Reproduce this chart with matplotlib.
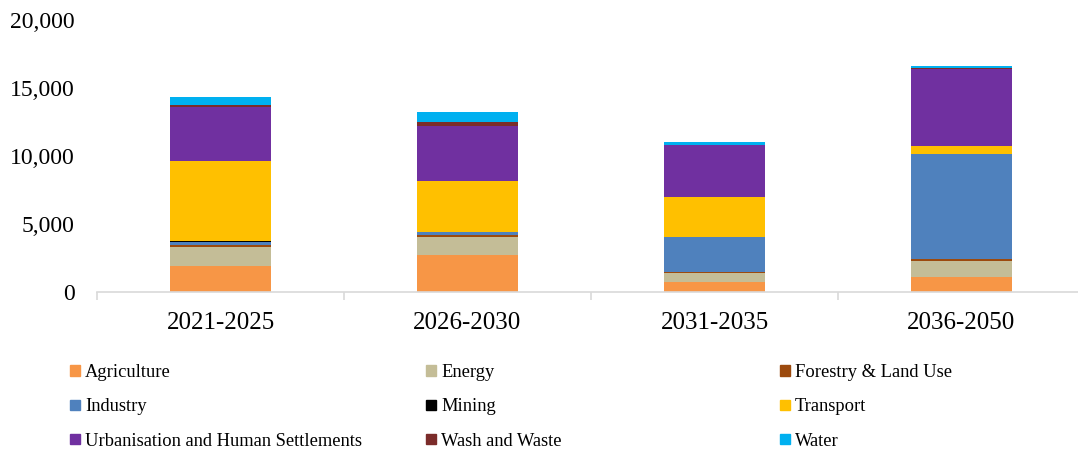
import matplotlib.pyplot as plt
import matplotlib.patches as mpatches
import numpy as np
from matplotlib.ticker import FuncFormatter

periods = ['2021-2025', '2026-2030', '2031-2035', '2036-2050']
sectors = ['Agriculture', 'Energy', 'Forestry & Land Use', 'Industry', 'Mining',
           'Transport', 'Urbanisation and Human Settlements', 'Wash and Waste', 'Water']

agriculture = [1930, 2720, 750, 1130]
energy = [1400, 1320, 650, 1170]
forestry = [120, 150, 100, 130]
industry = [260, 220, 2540, 7720]
mining = [20, 20, 10, 10]
transport = [5880, 3710, 2950, 590]
urbanisation = [4020, 4090, 3800, 5680]
wash = [120, 270, 40, 30]
water = [610, 710, 220, 170]

series = [agriculture, energy, forestry, industry, mining,
          transport, urbanisation, wash, water]
colors = ['#F79646', '#C4BD97', '#9C4A0E', '#4F81BD', '#000000',
          '#FFC000', '#7030A0', '#7B2C2A', '#00B0F0']

plt.rcParams['font.family'] = ['Liberation Serif', 'DejaVu Serif']

fig = plt.figure(figsize=(10.78, 4.5), dpi=100)
ax = fig.add_axes([97 / 1078, 158 / 450, 988 / 1078, 272 / 450])

x = np.arange(len(periods))
bottom = np.zeros(len(periods))
for vals, c in zip(series, colors):
    ax.bar(x, vals, width=0.405, bottom=bottom, color=c, edgecolor='none')
    bottom += np.array(vals)

ax.set_xlim(-0.5, 3.5)
ax.set_ylim(0, 20000)
ax.yaxis.set_major_formatter(FuncFormatter(lambda v, p: f'{int(v):,}'))
ax.set_yticks([0, 5000, 10000, 15000, 20000])
ax.tick_params(axis='y', length=0, pad=16, labelsize=17)

# tick marks on category boundaries, labels in the middle
ax.set_xticks([-0.5, 0.5, 1.5, 2.5, 3.5])
ax.set_xticklabels([])
ax.tick_params(axis='x', which='major', length=6, color='#D9D9D9', width=1.2)
ax.set_xticks(x, minor=True)
ax.set_xticklabels(periods, minor=True)
ax.tick_params(axis='x', which='minor', length=0, pad=14.5, labelsize=18)

for s in ['top', 'right', 'left']:
    ax.spines[s].set_visible(False)
ax.spines['bottom'].set_color('#D9D9D9')
ax.spines['bottom'].set_linewidth(1.2)

# legend, filled row by row in three columns
col_x = [70, 426, 780]
for ci in range(3):
    handles = []
    for ri in range(3):
        k = ri * 3 + ci
        handles.append(mpatches.Patch(color=colors[k], label=sectors[k]))
    fig.legend(handles=handles, loc='upper left',
               bbox_to_anchor=(col_x[ci] / 1078, 1 - 364 / 450),
               frameon=False, fontsize=13.3, handlelength=0.54, handleheight=0.49,
               handletextpad=0.27, labelspacing=0.94, borderpad=0, borderaxespad=0)

fig.savefig('out.png', dpi=100)
